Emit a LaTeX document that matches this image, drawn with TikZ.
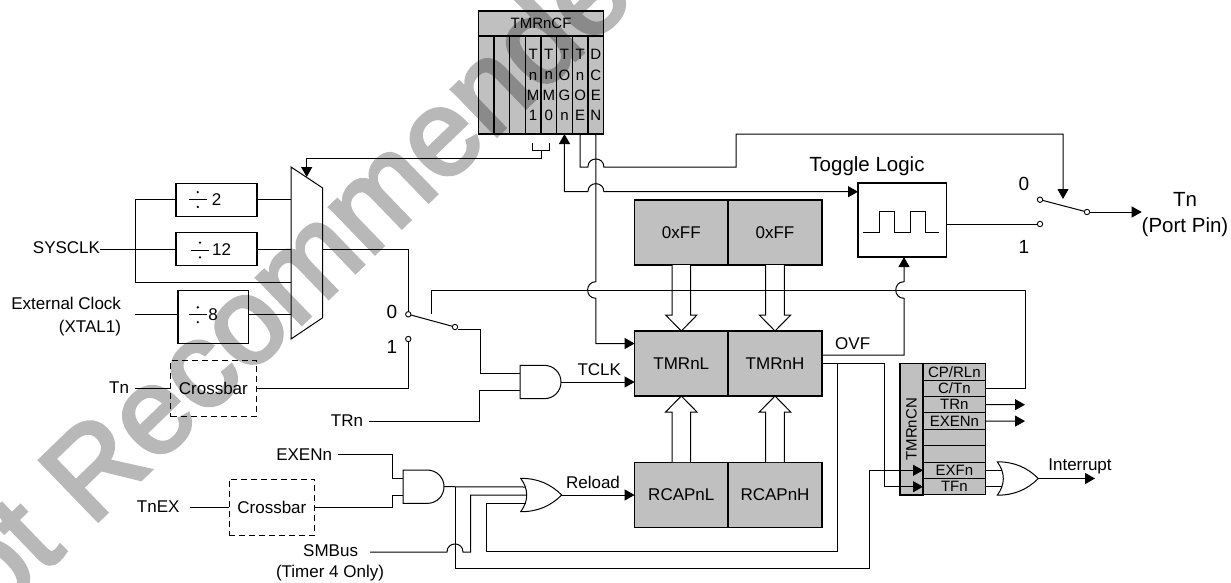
\documentclass[tikz,border=0pt]{standalone}
\usepackage{fontspec}
\setmainfont{Liberation Sans}
\newfontfamily\stampfont[FakeBold=3]{Liberation Sans}
\usetikzlibrary{calc, arrows.meta}

\definecolor{boxgrey}{RGB}{192,192,192}

\newcommand{\lblfont}{\fontsize{17}{23}\selectfont}
\newcommand{\smallfont}{\fontsize{15}{20.3}\selectfont}
\newcommand{\bigfont}{\fontsize{20.5}{26}\selectfont}
\newcommand{\barfont}{\fontsize{19}{23}\selectfont}

\tikzset{
	wire/.style={line width=1pt, >={Triangle[length=10pt,width=11pt]}},
	greybox/.style={draw, fill=boxgrey, line width=1.1pt, inner sep=0pt, outer sep=0pt, font=\lblfont},
	plainbox/.style={draw, line width=1.1pt, inner sep=0pt, outer sep=0pt, font=\lblfont},
	dashbox/.style={draw, dashed, dash pattern=on 6pt off 4pt, line width=1pt, inner sep=0pt, outer sep=0pt, font=\lblfont},
	lbl/.style={inner sep=0pt, outer sep=0pt, font=\lblfont},
	pole/.style={draw, circle, fill=white, line width=.9pt, inner sep=0pt, outer sep=0pt, minimum size=5.4pt},
	hump/.style 2 args={insert path={-- (#1-8,#2) .. controls (#1-8,#2-10.7) and (#1+8,#2-10.7) .. (#1+8,#2)}},
	bulge/.style 2 args={insert path={-- (#1,#2+8.3) .. controls (#1-11,#2+8.3) and (#1-11,#2-8.3) .. (#1,#2-8.3)}},
	andgate/.pic={
		\draw[line width=1pt] (0,-16.7) -- (24,-16.7) .. controls (34,-16.7) and (41,-9) .. (41,0) .. controls (41,9) and (34,16.7) .. (24,16.7) -- (0,16.7) -- cycle;
		\coordinate (-a) at (0,-8.3);
		\coordinate (-b) at (0,8.3);
		\coordinate (-out) at (41,0);
	},
	orgate/.pic={
		\draw[line width=1pt] (0,-16.7) .. controls (4,-11) and (6,-6) .. (6,0) .. controls (6,6) and (4,11) .. (0,16.7) .. controls (17,16.7) and (30,11) .. (41,0) .. controls (30,-11) and (17,-16.7) .. (0,-16.7) -- cycle;
		\coordinate (-a) at (5,-8);
		\coordinate (-b) at (6,0);
		\coordinate (-c) at (5,8);
		\coordinate (-out) at (41,0);
	}
}

\begin{document}
\begin{tikzpicture}[x=1pt,y=-1pt]
	\useasboundingbox (0,0) rectangle (1231,582);

	% TMRnCF register
	\node[greybox, minimum width=125.4pt, minimum height=25pt, font=\smallfont] (cfhead) at (541,23.5) {TMRnCF};
	\foreach \i/\txt in {0/{},1/{},2/{},3/{T\\n\\M\\1},4/{T\\n\\M\\0},5/{T\\O\\G\\n},6/{T\\n\\O\\E},7/{D\\C\\E\\N}}
		\node[greybox, minimum width=15.67pt, minimum height=98pt, align=center, font=\smallfont] (bit\i) at ({486.13+15.67*\i},85) {\txt};

	% timer registers
	\node[greybox, minimum width=93.4pt, minimum height=65pt] (ffl) at (681.3,232.5) {0xFF};
	\node[greybox, minimum width=94pt, minimum height=65pt] (ffh) at (775,232.5) {0xFF};
	\node[greybox, minimum width=93.4pt, minimum height=65pt] (tl) at (681.3,363.5) {TMRnL};
	\node[greybox, minimum width=94pt, minimum height=65pt] (th) at (775,363.5) {TMRnH};
	\node[greybox, minimum width=93.4pt, minimum height=65.5pt] (rl) at (681.3,494.8) {RCAPnL};
	\node[greybox, minimum width=94pt, minimum height=65.5pt] (rh) at (775,494.8) {RCAPnH};

	\foreach \x in {681.3,775} {
		\draw[line width=1pt, fill=white] (\x-9.3,265) -- (\x-9.3,315) -- (\x-15.7,315) -- (\x,331) -- (\x+15.7,315) -- (\x+9.3,315) -- (\x+9.3,265);
		\draw[line width=1pt, fill=white] (\x-9.3,462) -- (\x-9.3,412) -- (\x-15.7,412) -- (\x,396) -- (\x+15.7,412) -- (\x+9.3,412) -- (\x+9.3,462);
	}

	% TMRnCN register
	\node[greybox, minimum width=131.3pt, minimum height=23pt, rotate=90, font=\smallfont] (cnside) at (911.5,429.35) {TMRnCN};
	\foreach \i/\txt in {0/{CP/RLn},1/{C/Tn},2/{TRn},3/{EXENn},4/{},5/{},6/{EXFn},7/{TFn}}
		\node[greybox, minimum width=62.7pt, minimum height=16.4pt, font=\smallfont] (cn\i) at (954.35,{371.9+16.4*\i}) {\txt};

	% dividers and crossbars
	\node[plainbox, minimum width=81pt, minimum height=32.7pt] (divb) at (216.5,199.7) {};
	\node[plainbox, minimum width=81pt, minimum height=32.7pt] (divc) at (216.5,249) {};
	\node[plainbox, minimum width=70.6pt, minimum height=53.3pt] (divd) at (213.3,316.7) {};
	\foreach \cx/\cy/\dx/\val in {197.8/199.5/216.7/2,200/250/221.7/12,197.8/314.7/213/8} {
		\draw[line width=.9pt] (\cx-8.7,\cy) -- (\cx+8.7,\cy);
		\fill (\cx,\cy-7.4) circle (1.3pt) (\cx,\cy+7.4) circle (1.3pt);
		\node[lbl] at (\dx,\cy) {\val};
	}
	\node[dashbox, minimum width=85.3pt, minimum height=56.7pt] (cba) at (213.35,388.35) {Crossbar};
	\node[dashbox, minimum width=85.7pt, minimum height=56.7pt] (cbb) at (271.85,507.35) {Crossbar};

	% clock mux
	\coordinate (muxtl) at (291,167);
	\coordinate (muxtr) at (322.7,188);
	\coordinate (muxbr) at (322.7,317.7);
	\coordinate (muxbl) at (291,339);
	\coordinate (muxout) at (322.7,249);
	\draw[line width=1pt] (muxtl) -- (muxtr) -- (muxbr) -- (muxbl) -- cycle;

	% toggle logic
	\node[plainbox, minimum width=88.7pt, minimum height=74pt] (toggle) at (902.35,220) {};
	\draw[line width=1pt] (862.7,232.7) -- (879,232.7) -- (879,211.7) -- (894,211.7) -- (894,232.7) -- (910,232.7) -- (910,211.7) -- (925,211.7) -- (925,232.7) -- (939,232.7);
	\node[lbl, font=\bigfont] (togglelbl) at (867,166) {Toggle Logic};

	% gates
	\pic (tclkand) at (520,382) {andgate};
	\pic (exenand) at (403,486.7) {andgate};
	\pic (reloador) at (520.7,495) {orgate};
	\pic (intor) at (997.3,478.5) {orgate};

	% switches
	\node[pole] (swa) at (408.3,314.3) {};
	\node[pole] (swb) at (408.3,339) {};
	\node[pole] (swc) at (455,327) {};
	\node[pole] (toga) at (1040,199.7) {};
	\node[pole] (togb) at (1040,224) {};
	\node[pole] (togc) at (1087,212) {};
	\node[lbl, font=\barfont] at (392,312) {0};
	\node[lbl, font=\barfont] at (392,347) {1};
	\node[lbl, font=\barfont] at (1024,184) {0};
	\node[lbl, font=\barfont] at (1024,247) {1};

	% labels
	\node[lbl, anchor=east] (sysclk) at (100,248) {SYSCLK};
	\node[lbl, anchor=east, align=right, inner xsep=14pt] (extclk) at (135,317) {External Clock\\(XTAL1)};
	\node[lbl, anchor=east, inner xsep=6pt] (tnlbl) at (135,388) {Tn};
	\node[lbl, anchor=east, inner xsep=6pt] (trnlbl) at (369,421) {TRn};
	\node[lbl, anchor=east, inner xsep=6pt] (exenlbl) at (338,455) {EXENn};
	\node[lbl, anchor=east, inner xsep=10.5pt] (tnexlbl) at (190,507) {TnEX};
	\node[lbl, anchor=east, inner xsep=12pt] (smblbl) at (370,551) {SMBus};
	\node[lbl] (timerlbl) at (330,573) {(Timer 4 Only)};
	\node[lbl] (tclklbl) at (599.3,370) {TCLK};
	\node[lbl] (reloadlbl) at (593,482) {Reload};
	\node[lbl] (ovflbl) at (852.7,344) {OVF};
	\node[lbl] (intlbl) at (1080,466) {Interrupt};
	\node[lbl, font=\bigfont, align=center] (tnpin) at (1185,215) {Tn\\(Port Pin)};

	% free ends and bends
	\coordinate (bracl) at (532.7,142.7);
	\coordinate (bracr) at (549,142.7);
	\coordinate (stem) at (541,150.7);
	\coordinate (stemend) at (541,158.7);
	\coordinate (muxsel) at (306.7,158.7);
	\coordinate (muxselend) at (306.7,177);
	\coordinate (togin) at (858,191.7);
	\coordinate (ctlsw) at (431.7,314);
	\coordinate (ctlleft) at (431.7,290);
	\coordinate (ctlright) at (1025,290);
	\coordinate (trout) at (1025,404.7);
	\coordinate (exout) at (1025,421.1);
	\coordinate (intout) at (1095,478.5);
	\coordinate (togctl) at (1063,199);
	\coordinate (ovfbend) at (904,355);
	\coordinate (tfbend) at (884.3,363.5);
	\coordinate (reloadtap) at (837.7,363.5);
	\coordinate (reloadlow) at (837.7,551.7);
	\coordinate (exftap) at (455,486.7);
	\coordinate (exflow) at (869,568.3);

	% clock path
	\draw[wire] (sysclk.east |- divc.west) -- (divc.west);
	\draw[wire] (divb.west) -- (135.3,199.7) |- (muxtl |- 282,282);
	\draw[wire] ([yshift=2pt]extclk.east |- divd.west) -- ([yshift=2pt]divd.west);
	\draw[wire] (divb.east) -- (divb.east -| muxtl);
	\draw[wire] (divc.east) -- (divc.east -| muxtl);
	\draw[wire] ([yshift=2pt]divd.east) -- ([yshift=2pt]divd.east -| muxtl);
	\draw[wire] (tnlbl.east |- cba.west) -- (cba.west);
	\draw[wire] (cba.east) -| (swb);
	\draw[wire] (muxout) -| (swa);
	\draw[wire] (swa) -- (swc);
	\draw[wire] ([yshift=-2pt]swc.east) -- (480.7,329) |- (tclkand-a);
	\draw[wire] (trnlbl.east |- 479,421) -- (479,421) |- (tclkand-b);
	\draw[wire,->] (tclkand-out) -- (tclkand-out -| tl.west);

	% TMRnCF controls
	\draw[wire] (bracl) -- (bracl |- stem) -- (bracr |- stem) -- (bracr);
	\draw[wire,->] (stem) -- (stemend) -- (muxsel) -- (muxselend);
	\draw[wire,<-] (tl.west |- 595.87,343.5) -- (595.87,343.5) [bulge={595.87}{290}] -- (bit7.south);
	\draw[wire,<->] (bit5.south) -- (bit5.south |- togin) [hump={595.87}{191.7}] -- (togin);
	\draw[wire,->] (bit6.south) -- (580,167) [hump={595.87}{167}] -- (736,167) -- (736,134) -- (1063,134) -- (togctl);
	\draw[wire] (cn1.east) -| (ctlright) -- (ctlleft) -- (ctlsw);

	% toggle output
	\draw[wire] (toggle.east |- togb) -- (togb);
	\draw[wire] (toga) -- (togc);
	\draw[wire,->] (togc) -- (togc -| tnpin.west);
	\draw[wire,->] (th.east |- ovfbend) -- (ovfbend) [bulge={904}{290}] -- (904,257);

	% TMRnCN side
	\draw[wire,->] (th.east) -- (tfbend) |- (cn7.west);
	\draw[wire,->] (cn2.east) -- (trout);
	\draw[wire,->] (cn3.east) -- (exout);
	\draw[wire] (cn6.east) -- (cn6.east -| intor-a);
	\draw[wire] (cn7.east) -- (cn7.east -| intor-c);
	\draw[wire,->] (intor-out) -- (intout);

	% reload path
	\draw[wire] (exenlbl.east |- 392.7,454) -- (392.7,454) |- (exenand-a);
	\draw[wire] (cbb.east) -- (392.7,507.35) |- (exenand-b);
	\draw[wire] (tnexlbl.east |- cbb.west) -- (cbb.west);
	\draw[wire] (exenand-out) -- (reloador-a);
	\draw[wire] (smblbl.east |- 455,552) [hump={455}{552}] -- (470.7,552) |- (reloador-b);
	\draw[wire] (reloador-c) -- (486,503) -- (486,551.7) -- (reloadlow) -- (reloadtap);
	\draw[wire,->] (exftap) -- (455,568.3) -- (exflow) |- (cn6.west);
	\draw[wire,->] (reloador-out) -- (reloador-out -| rl.west);

	% watermark
	\begin{scope}[transparency group, opacity=.28]
		\clip (0,0) rectangle (1231,582);
		\node[anchor=base west, rotate=44, inner sep=0pt, font=\stampfont\fontsize{122}{122}\selectfont] (stamp) at (-70,683) {Not Recommended};
	\end{scope}
\end{tikzpicture}
\end{document}
